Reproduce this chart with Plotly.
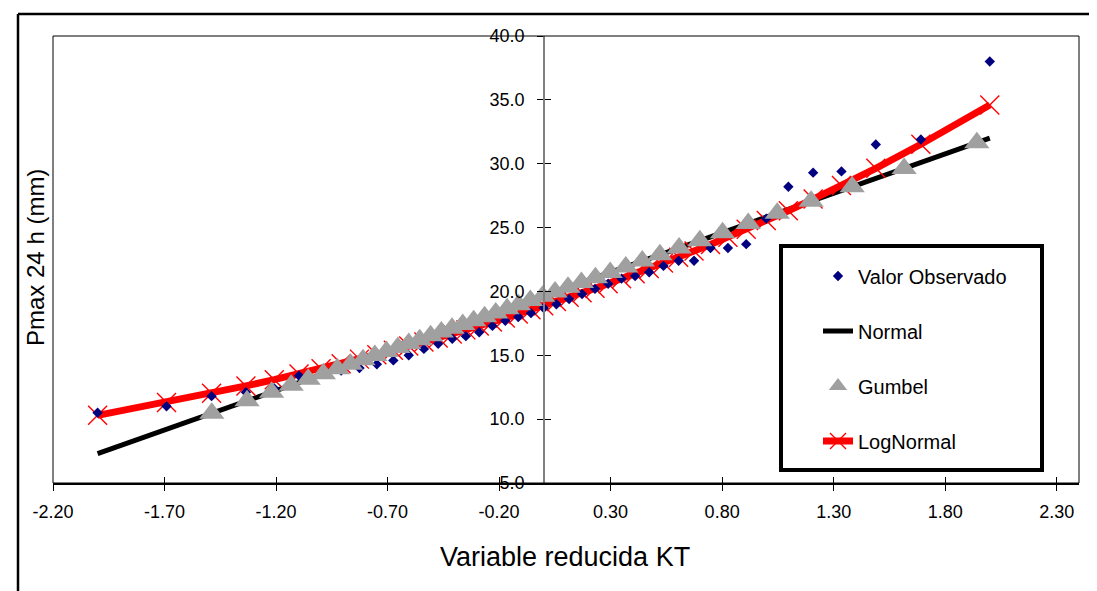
import plotly.graph_objects as go

# ---------------- data ----------------
kt_normal = [-2.000, -1.691, -1.489, -1.335, -1.208, -1.097, -0.998, -0.908, -0.826, -0.748,
             -0.674, -0.605, -0.537, -0.473, -0.410, -0.349, -0.289, -0.230, -0.172, -0.114,
             -0.057, 0.000, 0.057, 0.114, 0.172, 0.230, 0.289, 0.349, 0.410, 0.473,
             0.537, 0.605, 0.674, 0.748, 0.826, 0.908, 0.998, 1.097, 1.208, 1.335,
             1.489, 1.691, 2.000]
observed = [10.5, 11.0, 11.8, 12.1, 12.4, 13.4, 13.6, 13.8, 14.0, 14.3,
            14.6, 15.0, 15.5, 15.9, 16.3, 16.5, 16.8, 17.3, 17.7, 18.0,
            18.3, 18.7, 19.0, 19.4, 19.8, 20.2, 20.6, 21.0, 21.2, 21.5,
            22.0, 22.4, 22.4, 23.4, 23.4, 23.7, 25.7, 28.2, 29.3, 29.4,
            31.5, 31.9, 38.0]
normal = [7.30, 9.21, 10.46, 11.41, 12.19, 12.88, 13.49, 14.04, 14.55, 15.03,
          15.49, 15.91, 16.33, 16.73, 17.12, 17.49, 17.87, 18.23, 18.59, 18.95,
          19.30, 19.65, 20.00, 20.35, 20.71, 21.07, 21.43, 21.81, 22.18, 22.57,
          22.97, 23.39, 23.81, 24.27, 24.75, 25.26, 25.81, 26.42, 27.11, 27.89,
          28.84, 30.09, 32.00]
lognormal = [10.30, 11.31, 12.03, 12.60, 13.09, 13.54, 13.95, 14.34, 14.70, 15.05,
             15.39, 15.72, 16.04, 16.36, 16.67, 16.99, 17.30, 17.61, 17.92, 18.24,
             18.56, 18.88, 19.21, 19.54, 19.89, 20.24, 20.61, 20.99, 21.38, 21.79,
             22.22, 22.68, 23.16, 23.68, 24.25, 24.86, 25.55, 26.32, 27.23, 28.29,
             29.64, 31.52, 34.60]
kt_gumbel = [-1.488, -1.330, -1.220, -1.132, -1.056, -0.988, -0.925, -0.866, -0.810, -0.757,
             -0.705, -0.654, -0.605, -0.556, -0.507, -0.459, -0.411, -0.363, -0.314, -0.265,
             -0.215, -0.164, -0.113, -0.060, -0.005, 0.051, 0.109, 0.169, 0.232, 0.298,
             0.368, 0.442, 0.521, 0.607, 0.700, 0.802, 0.917, 1.047, 1.199, 1.383,
             1.616, 1.942, 2.491]
gumbel = [10.46, 11.44, 12.11, 12.66, 13.13, 13.55, 13.94, 14.30, 14.65, 14.98,
          15.30, 15.61, 15.92, 16.22, 16.52, 16.82, 17.11, 17.41, 17.71, 18.02,
          18.32, 18.64, 18.95, 19.28, 19.62, 19.96, 20.32, 20.69, 21.08, 21.49,
          21.92, 22.38, 22.87, 23.40, 23.97, 24.60, 25.31, 26.12, 27.06, 28.19,
          29.63, 31.64, 35.03]

x_tick_vals = [-2.2, -1.7, -1.2, -0.7, -0.2, 0.3, 0.8, 1.3, 1.8, 2.3]
x_tick_text = ["-2.20", "-1.70", "-1.20", "-0.70", "-0.20", "0.30", "0.80", "1.30", "1.80", "2.30"]
y_tick_vals = [5, 10, 15, 20, 25, 30, 35, 40]
y_tick_text = ["5.0", "10.0", "15.0", "20.0", "25.0", "30.0", "35.0", "40.0"]

x_title = "Variable reducida KT"
y_title = "Pmax 24 h (mm)"
names = ["Valor Observado", "Normal", "Gumbel", "LogNormal"]

# ---------------- figure ----------------
FONT = "Liberation Sans, Arial, sans-serif"
W, H = 1097, 591
ML, MR, MT, MB = 45, 26, 28, 116
PW, PH = W - ML - MR, H - MT - MB


def px_x(px):
    return (px - ML) / PW


def px_y(py):
    return (H - MB - py) / PH


fig = go.Figure()

fig.add_trace(go.Scatter(x=kt_normal, y=normal, mode="lines", name=names[1],
                         line=dict(color="black", width=5),
                         legend="legend2"))
fig.add_trace(go.Scatter(x=kt_normal, y=lognormal, mode="lines+markers", name=names[3],
                         line=dict(color="#FF0000", width=7),
                         marker=dict(symbol="x-thin", size=19, color="#FF0000",
                                     line=dict(color="#FF0000", width=1.4)),
                         legend="legend4"))
fig.add_trace(go.Scatter(x=kt_normal, y=observed, mode="markers", name=names[0],
                         marker=dict(symbol="diamond", size=8, color="#000080"),
                         legend="legend"))
fig.add_trace(go.Scatter(x=kt_gumbel, y=gumbel, mode="markers", name=names[2],
                         marker=dict(symbol="triangle-up", size=22, color="#A0A0A0"),
                         legend="legend3"))
# dummy trace for the overlay axes (crossing ticks)
fig.add_trace(go.Scatter(x=[None], y=[None], xaxis="x2", yaxis="y2",
                         showlegend=False, hoverinfo="skip"))

XR = [-2.2, 2.4]
YR = [5, 40]
yaxis_pos = px_x(536)

fig.update_layout(
    width=W, height=H,
    margin=dict(l=ML, r=MR, t=MT, b=MB),
    paper_bgcolor="white", plot_bgcolor="white",
    font=dict(family=FONT, color="black", size=18),
    xaxis=dict(range=XR, tickvals=x_tick_vals, ticktext=x_tick_text,
               showgrid=False, zeroline=False, showline=True,
               linecolor="black", linewidth=1.5,
               ticks="outside", ticklen=6, tickcolor="black", tickwidth=1,
               ticklabelstandoff=6,
               tickfont=dict(family=FONT, size=18, color="black")),
    yaxis=dict(range=YR, tickvals=y_tick_vals, ticktext=y_tick_text,
               anchor="free", position=yaxis_pos,
               showgrid=False, zeroline=False, showline=True,
               linecolor="#808080", linewidth=1.5,
               ticks="outside", ticklen=6, tickcolor="black", tickwidth=1,
               ticklabelstandoff=9,
               tickfont=dict(family=FONT, size=18, color="black")),
    xaxis2=dict(range=XR, tickvals=x_tick_vals, overlaying="x", anchor="y2",
                showgrid=False, zeroline=False, showline=False,
                ticks="inside", ticklen=6, tickcolor="black", showticklabels=False),
    yaxis2=dict(range=YR, tickvals=y_tick_vals, overlaying="y", anchor="free",
                position=yaxis_pos,
                showgrid=False, zeroline=False, showline=False,
                ticks="inside", ticklen=6, tickcolor="black", showticklabels=False),
    showlegend=True,
)

legend_rows = {"legend": 268, "legend2": 323, "legend3": 378, "legend4": 433}
for key, py in legend_rows.items():
    fig.update_layout(**{key: dict(x=px_x(810), xanchor="left", y=px_y(py), yanchor="middle",
                                   bgcolor="rgba(0,0,0,0)", borderwidth=0,
                                   font=dict(family=FONT, size=20, color="black"))})

shapes = [
    # plot area frame
    dict(type="rect", xref="paper", yref="paper", x0=0, x1=1, y0=0, y1=1,
         line=dict(color="black", width=1), layer="above"),
    # legend box
    dict(type="rect", xref="paper", yref="paper",
         x0=px_x(773), x1=px_x(1034), y0=px_y(462), y1=px_y(238),
         line=dict(color="black", width=4), fillcolor="white", layer="above"),
    # outer chart border (left and top)
    dict(type="line", xref="paper", yref="paper",
         x0=px_x(10), x1=px_x(10), y0=px_y(H + 5), y1=px_y(6),
         line=dict(color="black", width=2.5)),
    dict(type="line", xref="paper", yref="paper",
         x0=px_x(10), x1=px_x(W + 5), y0=px_y(6), y1=px_y(6),
         line=dict(color="black", width=2.5)),
]
fig.update_layout(shapes=shapes)

fig.update_layout(annotations=[
    dict(text=x_title, xref="paper", yref="paper", x=px_x(557), y=px_y(549),
         xanchor="center", yanchor="middle", showarrow=False,
         font=dict(family=FONT, size=27, color="black")),
    dict(text=y_title, xref="paper", yref="paper", x=px_x(28), y=px_y(250),
         xanchor="center", yanchor="middle", showarrow=False, textangle=-90,
         font=dict(family=FONT, size=24, color="black")),
])

fig.write_html("out.html")
